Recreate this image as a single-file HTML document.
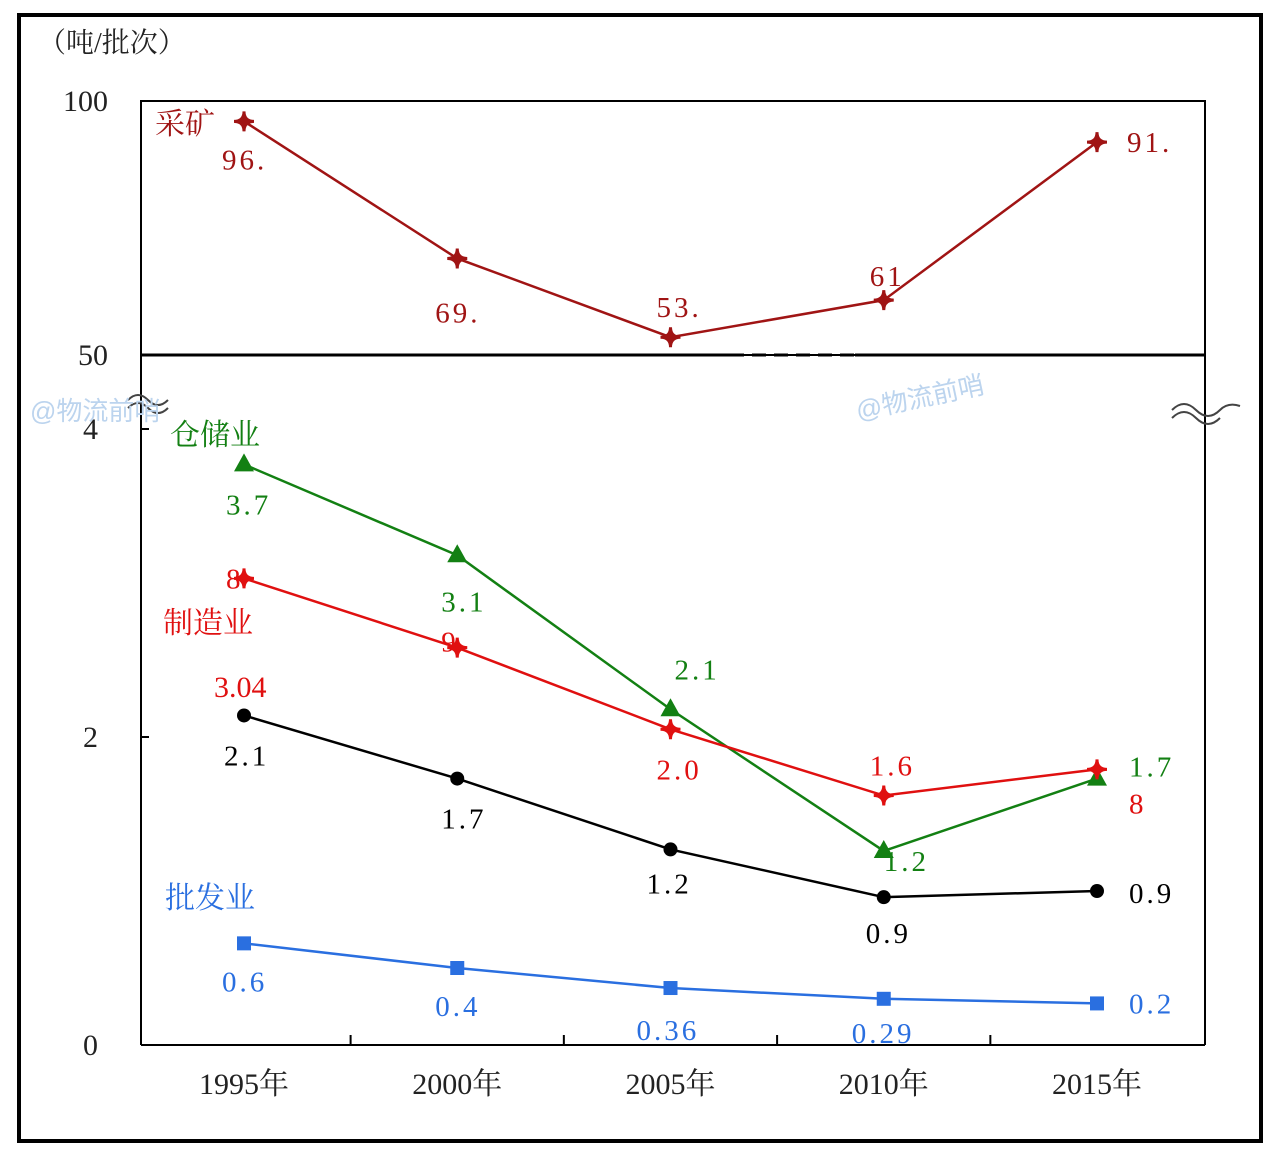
<!DOCTYPE html>
<html><head><meta charset="utf-8"><style>
body{margin:0;background:#fff}
svg{display:block;font-family:"Liberation Serif","Noto Serif CJK SC",serif}
</style></head><body>
<svg id="c" width="1274" height="1156" viewBox="0 0 1274 1156">
<rect x="19" y="15" width="1242" height="1126" fill="none" stroke="#000" stroke-width="4"/>
<text x="38" y="52" font-size="28" fill="#222">（吨/批次）</text>
<rect x="141" y="101" width="1064" height="254" fill="none" stroke="#000" stroke-width="2"/>
<line x1="141" y1="355" x2="730" y2="355" stroke="#000" stroke-width="3"/>
<line x1="730" y1="355" x2="855" y2="355" stroke="#000" stroke-width="3" stroke-dasharray="14,8"/>
<line x1="855" y1="355" x2="1205" y2="355" stroke="#000" stroke-width="3"/>
<line x1="141" y1="355" x2="141" y2="1045" stroke="#000" stroke-width="2"/>
<line x1="1205" y1="355" x2="1205" y2="1045" stroke="#000" stroke-width="2"/>
<line x1="141" y1="1045" x2="1205" y2="1045" stroke="#000" stroke-width="2"/>
<path d="M128 400 q10 -10 20 0 t20 0 M128 408 q10 -10 20 0 t20 0" stroke="#444" fill="none" stroke-width="2"/>
<path d="M1172 410 q12 -12 24 0 t24 0 q8 -8 20 -4 M1172 418 q12 -12 24 0 t24 0" stroke="#444" fill="none" stroke-width="2"/>
<text x="30" y="420" font-size="26" fill="#bcd4ee" font-family="Liberation Sans,Noto Sans CJK SC,sans-serif">@物流前哨</text>
<text x="858" y="420" font-size="26" fill="#bcd4ee" transform="rotate(-12 858 420)" font-family="Liberation Sans,Noto Sans CJK SC,sans-serif">@物流前哨</text>
<g id="axes"></g>
<g id="marks"></g>
</svg>
<script>
const years=["1995年","2000年","2005年","2010年","2015年"];
const mining=[96,69,53.5,60.8,91.9];
const storage=[3.77,3.18,2.18,1.26,1.73];
const manufacturing=[3.03,2.58,2.05,1.62,1.79];
const overall=[2.14,1.73,1.27,0.96,1.0];
const wholesale=[0.66,0.5,0.37,0.3,0.27];
const miningLabels=["96.","69.","53.","61","91."];
const storageLabels=["3.7","3.1","2.1","1.2","1.7"];
const manufLabels=["8","9","2.0","1.6","8"];
const overallLabels=["2.1","1.7","1.2","0.9","0.9"];
const wholesaleLabels=["0.6","0.4","0.36","0.29","0.2"];
const topTicks=[100,50];
const bottomTicks=[4,2,0];
const NS="http://www.w3.org/2000/svg";
const ax=document.getElementById('axes'),mk=document.getElementById('marks');
const xs=i=>244+i*213.25;
const yTop=v=>355-(v-50)*254/50;
const yBot=v=>1045-v*154;
function el(t,a,p){const e=document.createElementNS(NS,t);for(const k in a)e.setAttribute(k,a[k]);p.appendChild(e);return e;}
topTicks.forEach(v=>{const t=el('text',{x:108,y:yTop(v)+10,'font-size':30,'text-anchor':'end',fill:'#222'},ax);t.textContent=v;

});
bottomTicks.forEach(v=>{const t=el('text',{x:98,y:yBot(v)+10,'font-size':30,'text-anchor':'end',fill:'#222'},ax);t.textContent=v;


const l=el('line',{x1:141,x2:149,y1:yBot(v),y2:yBot(v),stroke:'#000','stroke-width':2},ax);

});
years.forEach((y,i)=>{const t=el('text',{x:xs(i),y:1094,'font-size':30,'text-anchor':'middle',fill:'#222'},ax);t.textContent=y;


if(i<4){const l=el('line',{x1:xs(i)+106.6,x2:xs(i)+106.6,y1:1045,y2:1035,stroke:'#000','stroke-width':2},ax);

}});
function series(name,data,yf,color,shape,labels,offs){
 const pts=data.map((v,i)=>[xs(i),yf(v)]);
 const pl=el('polyline',{points:pts.map(p=>p.join(',')).join(' '),fill:'none',stroke:color,'stroke-width':2.5},mk);
 
 
 pts.forEach(([x,y],i)=>{let m;
  if(shape==='diamond')m=el('path',{d:`M${x} ${y-10}Q${x} ${y} ${x+10} ${y}Q${x} ${y} ${x} ${y+10}Q${x} ${y} ${x-10} ${y}Q${x} ${y} ${x} ${y-10}Z`,fill:color,stroke:color,'stroke-width':3},mk);
  else if(shape==='tri')m=el('path',{d:`M${x} ${y-11}L${x+10} ${y+7}L${x-10} ${y+7}Z`,fill:color},mk);
  else if(shape==='circle')m=el('circle',{cx:x,cy:y,r:7,fill:color},mk);
  else m=el('rect',{x:x-7,y:y-7,width:14,height:14,fill:color},mk);
  
  
  const t=el('text',{x:x+offs[i][0],y:y+offs[i][1],'font-size':29,fill:color,'letter-spacing':'3'},mk);t.textContent=labels[i];
  
  });
}
series('mining',mining,yTop,'#a01414','diamond',miningLabels,[[-22,48],[-22,64],[-14,-20],[-14,-14],[30,10]]);
series('storage',storage,yBot,'#138013','tri',storageLabels,[[-18,50],[-16,56],[4,-30],[0,20],[32,-2]]);
series('manufacturing',manufacturing,yBot,'#e01010','diamond',manufLabels,[[-18,10],[-16,4],[-14,50],[-14,-20],[32,44]]);
series('overall',overall,yBot,'#000','circle',overallLabels,[[-20,50],[-16,50],[-24,44],[-18,46],[32,12]]);
series('wholesale',wholesale,yBot,'#2a6fe0','square',wholesaleLabels,[[-22,48],[-22,48],[-34,52],[-32,44],[32,10]]);
[['采矿',155,134,'#a01414'],['仓储业',170,445,'#138013'],['制造业',163,633,'#e01010'],['3.04',214,697,'#e01010'],['批发业',165,908,'#2a6fe0']].forEach(([s,x,y,c])=>{
 const t=el('text',{x:x,y:y,'font-size':30,fill:c},mk);t.textContent=s;
 
 });
</script>
</body></html>
